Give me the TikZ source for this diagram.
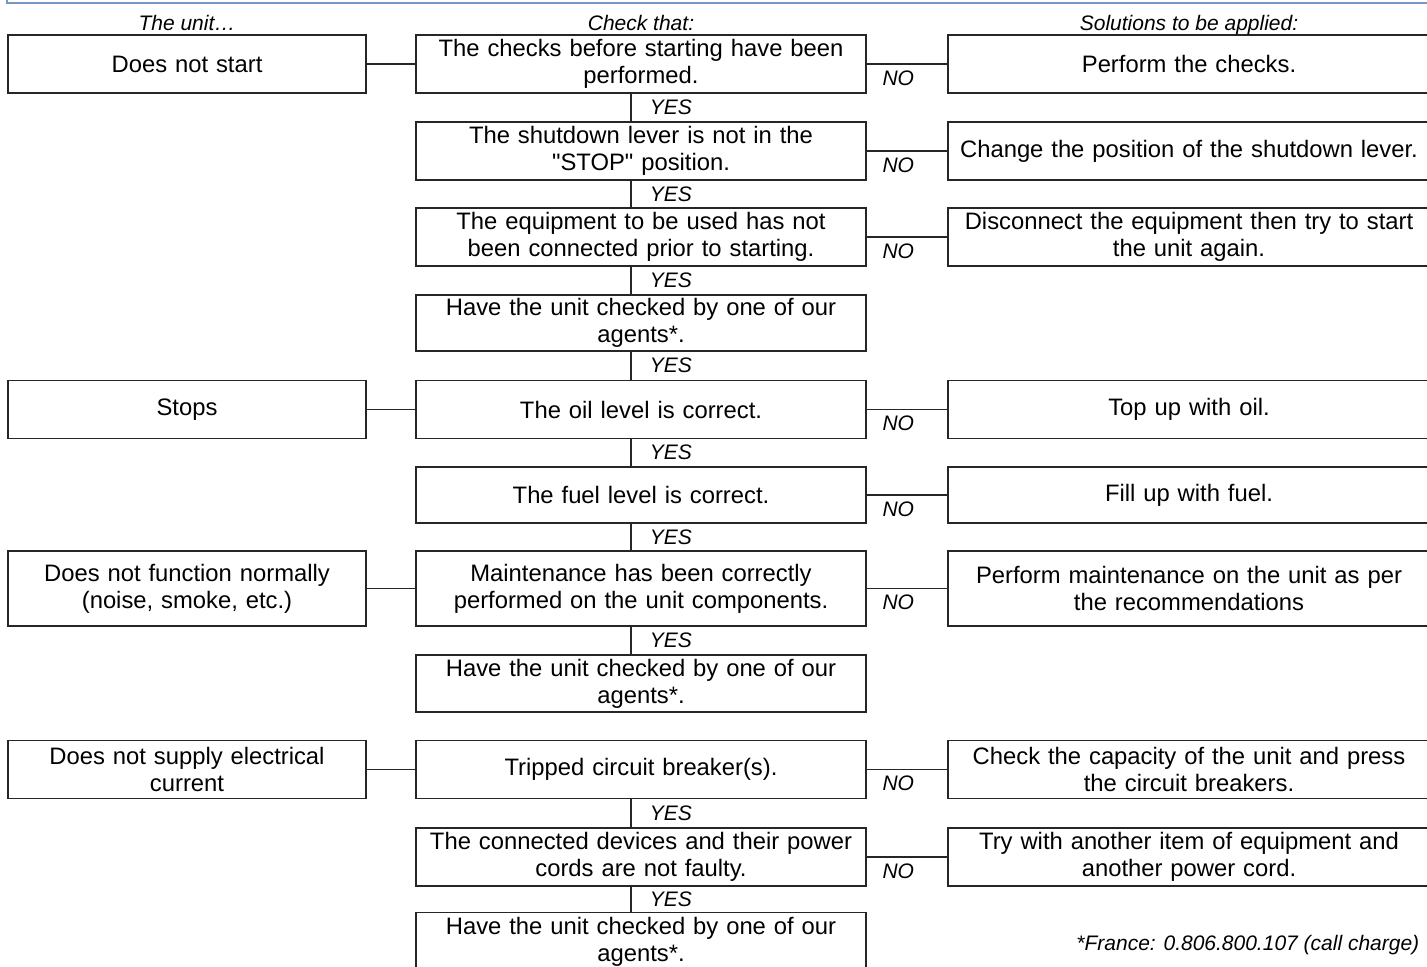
\documentclass[tikz,border=0pt]{standalone}
\usepackage{fontspec}
\setmainfont{Liberation Sans}[Ligatures=TeXOff]
\usepackage{tikz}
\usetikzlibrary{positioning}
\definecolor{framecol}{RGB}{120,150,200}

\begin{document}
\begin{tikzpicture}[x=0.5pt,y=-0.5pt,line width=0.75pt,
 box/.style={draw=black!85,align=center,inner sep=1pt,minimum height=29pt,font=\fontsize{11.9}{13.5}\selectfont},
 ucol/.style={box,text width=177pt},
 ccol/.style={box,text width=223pt},
 scol/.style={box,text width=239pt},
 head/.style={anchor=base,inner sep=0pt,font=\fontsize{10.5}{12}\selectfont\itshape},
 yeslab/.style={midway,anchor=west,inner sep=0pt,xshift=9pt,text=black,font=\fontsize{10.5}{12}\selectfont\itshape},
 nolab/.style={at start,anchor=west,inner sep=0pt,xshift=7.5pt,yshift=-7pt,text=black,font=\fontsize{10.5}{12}\selectfont\itshape}]
\useasboundingbox (0,0) rectangle (1427,967);
\draw[framecol,line width=0.6pt] (7,-6)--(7,3)--(1440,3);
% the unit ...
\node[ucol] (u1) at (187,64) {Does not start};
\node[ucol] (u2) at (187,409.5) {Stops};
\node[ucol,minimum height=37.5pt] (u3) at (187,588.5) {Does not function normally\\(noise, smoke, etc.)};
\node[ucol] (u4) at (187,769.5) {Does not supply electrical\\current};
% check that
\node[ccol] (c1) at (641,64) {The checks before starting have been\\performed.};
\node[ccol] (c2) at (641,151) {The shutdown lever is not in the\\"STOP" position.};
\node[ccol] (c3) at (641,237) {The equipment to be used has not\\been connected prior to starting.};
\node[ccol,minimum height=28pt] (c4) at (641,323) {Have the unit checked by one of our\\agents*.};
\node[ccol] (c5) at (641,409.5) {The oil level is correct.};
\node[ccol,minimum height=28pt] (c6) at (641,495) {The fuel level is correct.};
\node[ccol,minimum height=37.5pt] (c7) at (641,588.5) {Maintenance has been correctly\\performed on the unit components.};
\node[ccol,minimum height=28.5pt] (c8) at (641,683.5) {Have the unit checked by one of our\\agents*.};
\node[ccol] (c9) at (641,769.5) {Tripped circuit breaker(s).};
\node[ccol] (c10) at (641,857) {The connected devices and their power\\cords are not faulty.};
\node[ccol] (c11) at (641,941.5) {Have the unit checked by one of our\\agents*.};
% solutions
\node[scol] (s1) at (1189,64) {Perform the checks.};
\node[scol] (s2) at (1189,151) {Change the position of the shutdown lever.};
\node[scol] (s3) at (1189,237) {Disconnect the equipment then try to start\\the unit again.};
\node[scol] (s5) at (1189,409.5) {Top up with oil.};
\node[scol,minimum height=28pt] (s6) at (1189,495) {Fill up with fuel.};
\node[scol,minimum height=37.5pt] (s7) at (1189,588.5) {Perform maintenance on the unit as per\\the recommendations};
\node[scol] (s9) at (1189,769.5) {Check the capacity of the unit and press\\the circuit breakers.};
\node[scol] (s10) at (1189,857) {Try with another item of equipment and\\another power cord.};
% headings and note
\node[head] (h1) at ([yshift=1.75pt]u1.north) {The unit…};
\node[head] (h2) at ([yshift=1.75pt]c1.north) {Check that:};
\node[head] (h3) at ([yshift=1.75pt]s1.north) {Solutions to be applied:};
\node[head,anchor=base east] (fn) at (1420,950) {*France: 0.806.800.107 (call charge)};
% connectors
\coordinate (v) at (631,0);
\foreach \a/\b in {u1/c1,u2/c5,u3/c7,u4/c9} \draw[black!85] (\a)--(\b);
\foreach \a/\b in {c1/s1,c2/s2,c3/s3,c5/s5,c6/s6,c7/s7,c9/s9,c10/s10}
 \draw[black!85] (\a)-- node[nolab]{NO} (\b);
\foreach \a/\b in {c1/c2,c2/c3,c3/c4,c4/c5,c5/c6,c6/c7,c7/c8,c9/c10,c10/c11}
 \draw[black!85] (\a.south -| v)-- node[yeslab]{YES} (\b.north -| v);
\end{tikzpicture}
\end{document}
